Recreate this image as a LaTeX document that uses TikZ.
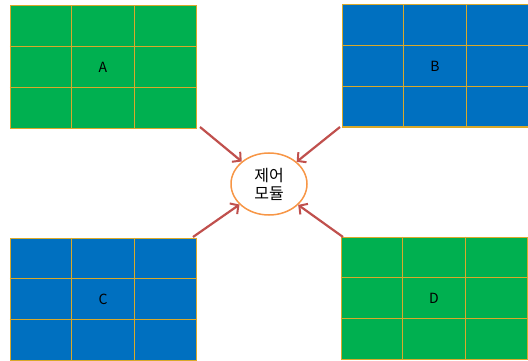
\documentclass[tikz,border=0pt]{standalone}
\usepackage{fontspec}
\setmainfont{Noto Sans CJK KR}
\usetikzlibrary{arrows.meta,shapes.geometric,calc}

\definecolor{boxgreen}{HTML}{00B050}
\definecolor{boxblue}{HTML}{0070C0}
\definecolor{gridgold}{HTML}{D9A92A}
\definecolor{arrowred}{HTML}{C0504D}
\definecolor{ringorange}{HTML}{F79646}

\tikzset{
  gridbox/.style={draw=gridgold,line width=1pt,inner sep=0pt,
    minimum width=186pt,minimum height=122pt,
    font=\fontsize{14}{16}\selectfont},
  gridline/.style={draw=gridgold,line width=1pt},
  feed/.style={draw=arrowred,line width=2.2pt,
    -{Straight Barb[length=6pt,width=13pt,line width=2pt]}},
}

\begin{document}
\begin{tikzpicture}[x=1pt,y=-1pt]
  \useasboundingbox (0,0) rectangle (528,361);
  % four grid blocks
  \node[gridbox,fill=boxgreen] (A) at (103,67) {A};
  \node[gridbox,fill=boxblue]  (B) at (435,66) {B};
  \node[gridbox,fill=boxblue]  (C) at (103,299) {C};
  \node[gridbox,fill=boxgreen] (D) at (434,298) {D};
  \foreach \b in {A,B,C,D}{
    \foreach \f in {0.3333,0.6667}{
      \draw[gridline] ($(\b.north west)!\f!(\b.north east)$) -- ($(\b.south west)!\f!(\b.south east)$);
      \draw[gridline] ($(\b.north west)!\f!(\b.south west)$) -- ($(\b.north east)!\f!(\b.south east)$);
    }
  }
  % control module
  \node[ellipse,draw=ringorange,line width=1.5pt,fill=white,
        minimum width=76pt,minimum height=62pt,inner sep=0pt,
        align=center,font=\fontsize{16}{18}\selectfont] (ctl) at (269,184) {제어\\모듈};
  \coordinate (a1) at (200,127);
  \coordinate (b1) at (340,127);
  \coordinate (c1) at (193,237);
  \coordinate (d1) at (343,237);
  \draw[feed] (a1) -- (ctl);
  \draw[feed] (b1) -- (ctl);
  \draw[feed] (c1) -- (ctl);
  \draw[feed] (d1) -- (ctl);
\end{tikzpicture}
\end{document}
